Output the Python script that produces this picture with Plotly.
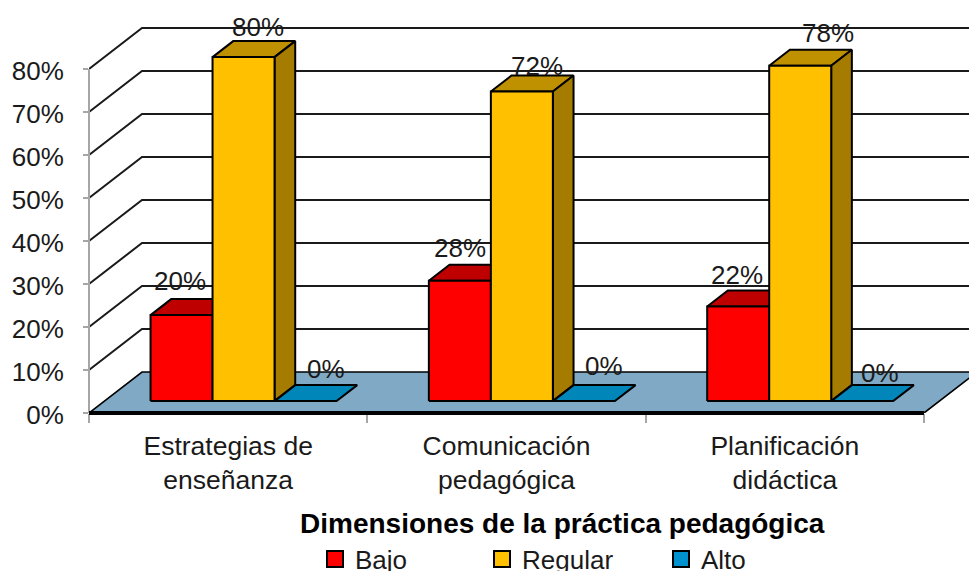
import plotly.graph_objects as go

categories = ["Estrategias de<br>enseñanza", "Comunicación<br>pedagógica", "Planificación<br>didáctica"]
series_names = ["Bajo", "Regular", "Alto"]
bajo = [20, 28, 22]
regular = [80, 72, 78]
alto = [0, 0, 0]
y_ticks = [0, 10, 20, 30, 40, 50, 60, 70, 80]

# Styling and 3D projection (separate from the data)
FRONT = ["#FF0000", "#FFC000", "#0086B8"]
TOP = ["#BF0000", "#BF9000", "#0086B8"]
SIDE = ["#A60000", "#A67C00", "#005F85"]
SWATCH = ["#FF0000", "#FFC000", "#0091CF"]
DARK = "#1A1A1A"
FONT = "Liberation Sans, Arial, sans-serif"
FS = 26
W, H = 969, 571
L, Y0 = 89, 413
PX_CAT = 278.33   # pixels per category
PX_PCT = 4.3      # pixels per percentage point
DX = 53 / PX_CAT  # full floor depth, in axis units
DY = 41 / PX_PCT
BAR_W = 62 / PX_CAT
GAP = (1 - 3 * BAR_W) / 2
D0, D1 = 0.29, 0.68
X_MAX = (W - L) / PX_CAT
Y_MAX = Y0 / PX_PCT
# label nudges in pixels for each series/category
LABEL_DX = [[-1, 0, -1], [15, 15, 28], [21, 20, 18]]
LABEL_DY = [[8, 7, 6], [4, 0, 7], [6, 9, 2]]


def paper_x(px):
    return (px - L) / (W - L)


def paper_y(py):
    return (Y0 - py) / Y0


def proj(x, v, d):
    return x + d * DX, v + d * DY


def poly(points, fill, width=2.0):
    xs = [p[0] for p in points] + [points[0][0]]
    ys = [p[1] for p in points] + [points[0][1]]
    return go.Scatter(x=xs, y=ys, mode="lines", fill="toself", fillcolor=fill,
                      line=dict(color="black", width=width), hoverinfo="skip",
                      showlegend=False)


def line(xs, ys, color=DARK, width=2.0):
    return go.Scatter(x=xs, y=ys, mode="lines", line=dict(color=color, width=width),
                      hoverinfo="skip", showlegend=False)


fig = go.Figure()

# side-wall and back-wall gridlines
for t in y_ticks[1:]:
    bx, by = proj(0, t, 1)
    fig.add_trace(line([0, bx, X_MAX + 0.05], [t, by, by]))

# floor
floor = [proj(0, 0, 0), proj(0, 0, 1), proj(3, 0, 1), proj(3, 0, 0)]
fig.add_trace(poly(floor, "#7FA9C4", 1.6))

# bars
all_vals = [bajo, regular, alto]
for i in range(len(categories)):
    for j, vals in enumerate(all_vals):
        v = vals[i]
        x0 = i + GAP + j * BAR_W
        x1 = x0 + BAR_W
        fig.add_trace(poly([proj(x0, v, D0), proj(x0, v, D1), proj(x1, v, D1), proj(x1, v, D0)], TOP[j]))
        if v > 0:
            fig.add_trace(poly([proj(x1, 0, D0), proj(x1, 0, D1), proj(x1, v, D1), proj(x1, v, D0)], SIDE[j]))
            fig.add_trace(poly([proj(x0, 0, D0), proj(x1, 0, D0), proj(x1, v, D0), proj(x0, v, D0)], FRONT[j]))

# legend entries, one legend each so that they sit at the original spacing
legend_ids = ["legend", "legend2", "legend3"]
for j, name in enumerate(series_names):
    fig.add_trace(go.Scatter(x=[None], y=[None], mode="markers", name=name, legend=legend_ids[j],
                             marker=dict(symbol="square", size=16, color=SWATCH[j],
                                         line=dict(color="black", width=2))))

# value labels
annotations = []
for i in range(len(categories)):
    for j, vals in enumerate(all_vals):
        v = vals[i]
        cx, cy = proj(i + GAP + (j + 0.5) * BAR_W, v, D1)
        annotations.append(dict(x=cx, y=cy, xref="x", yref="y", text=f"{v}%", showarrow=False,
                                xshift=LABEL_DX[j][i] - 21, yshift=LABEL_DY[j][i] + 10,
                                font=dict(size=FS, color=DARK, family=FONT)))

annotations.append(dict(x=paper_x(562), y=paper_y(523), xref="paper", yref="paper",
                        xanchor="center", yanchor="middle",
                        text="<b>Dimensiones de la práctica pedagógica</b>", showarrow=False,
                        font=dict(size=28, color="black", family=FONT)))

legend_common = dict(orientation="h", yanchor="middle", xanchor="left", bgcolor="rgba(0,0,0,0)",
                     font=dict(size=FS, color=DARK, family=FONT), itemwidth=30,
                     y=paper_y(559), tracegroupgap=0)

# edges that straddle the plot boundary: shapes tied to one data axis and the paper
shapes = [
    dict(type="line", xref="paper", yref="y", x0=0, x1=0, y0=y_ticks[0], y1=y_ticks[-1],
         line=dict(color="#A6A6A6", width=2)),
    dict(type="line", xref="x", yref="paper", x0=0, x1=3, y0=0, y1=0,
         line=dict(color="black", width=4)),
]

fig.update_layout(
    width=W, height=H, autosize=False,
    margin=dict(l=L, r=0, t=0, b=H - Y0, pad=0, autoexpand=False),
    paper_bgcolor="white", plot_bgcolor="white",
    font=dict(family=FONT, size=FS, color=DARK),
    annotations=annotations,
    shapes=shapes,
    legend=dict(x=paper_x(315), **legend_common),
    legend2=dict(x=paper_x(482), **legend_common),
    legend3=dict(x=paper_x(661), **legend_common),
    xaxis=dict(range=[0, X_MAX], showgrid=False, zeroline=False, showline=False,
               tickmode="array", tickvals=[0.5, 1.5, 2.5], ticktext=categories,
               ticks="outside", ticklen=9, tickcolor="rgba(0,0,0,0)",
               tickfont=dict(size=26.5, color=DARK, family=FONT),
               minor=dict(tickmode="array", tickvals=[0, 1, 2, 3], ticks="outside",
                          ticklen=9, tickcolor="#A6A6A6", tickwidth=1.5)),
    yaxis=dict(range=[0, Y_MAX], showgrid=False, zeroline=False, showline=False,
               tickmode="array", tickvals=y_ticks, ticktext=[f"{t}%" for t in y_ticks],
               ticks="outside", ticklen=5, tickcolor="#A6A6A6", tickwidth=1.5,
               ticklabelstandoff=14, ticklabelshift=2,
               tickfont=dict(size=FS, color=DARK, family=FONT)),
)

fig.write_html("out.html", config={"displayModeBar": False},
               post_script="document.body.style.margin='0';document.documentElement.style.overflow='hidden';")
